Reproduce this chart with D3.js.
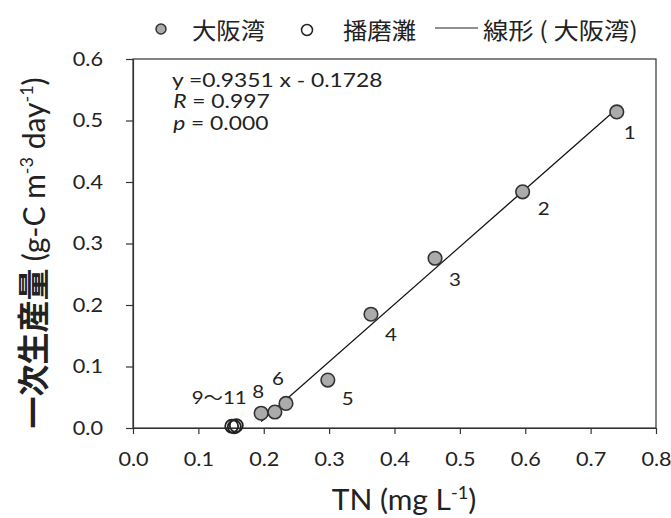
<!DOCTYPE html>
<html><head><meta charset="utf-8">
<script src="https://cdn.jsdelivr.net/npm/d3@7"></script>
<style>body{margin:0;background:#fff}svg{display:block}</style>
</head><body><svg id="c" width="671" height="518"></svg>
<script>
// ---- data ----
const osakaLabels = ["1","2","3","4","5","6","7","8"];
const osakaTN = [0.740,0.596,0.462,0.364,0.298,0.234,0.217,0.196];
const osakaPP = [0.514,0.384,0.276,0.185,0.078,0.040,0.026,0.024];
const harimaLabels = ["9","10","11"];
const harimaTN = [0.151,0.155,0.158];
const harimaPP = [0.003,0.002,0.004];
const xTicks = [0,0.1,0.2,0.3,0.4,0.5,0.6,0.7,0.8];
const yTicks = [0,0.1,0.2,0.3,0.4,0.5,0.6];
const fitSlope = 0.9351, fitIntercept = -0.1728;
const statLines = ["y =0.9351 x - 0.1728", "R = 0.997", "p = 0.000"];
const legendNames = ["大阪湾","播磨灘","線形 ( 大阪湾)"];
const pointTexts = ["1","2","3","4","5","6","8","9～11"];
const pointTextRef = [0,1,2,3,4,5,7,"h"]; // which point each text annotates

// ---- layout ----
const W = 671, H = 518;
const M = {left:133, right:15, top:59, bottom:90};
const labelOffsets = [[13,20],[21,16],[20,20],[20,19],[20,18],[-8,-26],[-3,-23],[15,-29]];
const LATIN = "Lato, 'Noto Sans', sans-serif";
const CJK = "'Noto Sans CJK JP', sans-serif";
const INK = "#222";
const SX = 1.14; // horizontal stretch of the reference lettering

const svg = d3.select("#c");
const x = d3.scaleLinear().domain([0,0.8]).range([M.left, W-M.right]);
const y = d3.scaleLinear().domain([0,0.6]).range([H-M.bottom, M.top]);

function stretched(parent, px, py, sx){
  return parent.append("g").attr("transform",`translate(${px},${py}) scale(${sx},1)`);
}

// frame
svg.append("rect").attr("x",x(0)).attr("y",y(0.6))
  .attr("width",x(0.8)-x(0)).attr("height",y(0)-y(0.6))
  .attr("fill","none").attr("stroke","#333").attr("stroke-width",1.2);

const fmt = d3.format(".1f");
const gx = svg.append("g").attr("transform",`translate(0,${y(0)})`)
  .call(d3.axisBottom(x).tickValues(xTicks).tickFormat(fmt).tickSize(6).tickPadding(19).tickSizeOuter(0));
const gy = svg.append("g").attr("transform",`translate(${x(0)},0)`)
  .call(d3.axisLeft(y).tickValues(yTicks).tickFormat(fmt).tickSize(7).tickPadding(23).tickSizeOuter(0));
[gx,gy].forEach(g=>{
  g.select(".domain").attr("stroke","#333").attr("stroke-width",1.2);
  g.selectAll(".tick line").attr("stroke","#333").attr("stroke-width",1.2);
  g.selectAll(".tick text").attr("font-family",LATIN).attr("font-size",19).attr("fill",INK);
});
gx.selectAll(".tick text").attr("transform",`scale(${SX},1)`);
gy.selectAll(".tick text").each(function(){
  const t = d3.select(this), xx = +t.attr("x");
  t.attr("x",0).attr("transform",`translate(${xx},0) scale(${SX},1)`);
});

// regression line over Osaka range
const xmin = d3.min(osakaTN), xmax = d3.max(osakaTN);
svg.append("line")
  .attr("x1",x(xmin)).attr("y1",y(fitSlope*xmin+fitIntercept))
  .attr("x2",x(xmax)).attr("y2",y(fitSlope*xmax+fitIntercept))
  .attr("stroke","#111").attr("stroke-width",1.2);

// points
const osaka = osakaTN.map((t,i)=>({t,p:osakaPP[i],n:osakaLabels[i]}));
const harima = harimaTN.map((t,i)=>({t,p:harimaPP[i],n:harimaLabels[i]}));
svg.append("g").selectAll("circle").data(osaka).join("circle")
  .attr("cx",d=>x(d.t)).attr("cy",d=>y(d.p)).attr("r",6.8)
  .attr("fill","#ababab").attr("stroke","#333").attr("stroke-width",1.6);
svg.append("g").selectAll("circle").data(harima).join("circle")
  .attr("cx",d=>x(d.t)).attr("cy",d=>y(d.p)).attr("r",6.5)
  .attr("fill","none").attr("stroke","#222").attr("stroke-width",1.8);

// point labels
pointTexts.forEach((s,i)=>{
  const r = pointTextRef[i];
  const t = r==="h" ? d3.min(harimaTN) : osakaTN[r];
  const p = r==="h" ? d3.max(harimaPP) : osakaPP[r];
  const g = stretched(svg, x(t)+labelOffsets[i][0], y(p)+labelOffsets[i][1], SX);
  const tx = g.append("text").attr("text-anchor", r==="h"?"end":"middle")
    .attr("dominant-baseline","central")
    .attr("font-family",LATIN).attr("font-size",18).attr("fill",INK);
  s.split(/(～)/).forEach(part=>{
    if(!part) return;
    const sp = tx.append("tspan").text(part);
    if(part==="～") sp.attr("font-family",CJK).attr("font-size",17);
  });
});

// stats annotation
const st = stretched(svg,172,0,1.2).attr("font-family",LATIN).attr("font-size",19).attr("fill",INK);
st.append("text").attr("x",0).attr("y",87).text(statLines[0]);
[[statLines[1],108],[statLines[2],130]].forEach(([s,yy])=>{
  const t = st.append("text").attr("x",1).attr("y",yy);
  t.append("tspan").attr("font-style","italic").text(s[0]);
  t.append("tspan").text(s.slice(1));
});

// legend
const lg = svg.append("g").attr("font-family",CJK).attr("font-size",23).attr("fill",INK);
lg.append("circle").attr("cx",161).attr("cy",29).attr("r",5).attr("fill","#ababab").attr("stroke","#333").attr("stroke-width",1.5);
stretched(lg,192,29,1.06).append("text").attr("dominant-baseline","central").text(legendNames[0]);
lg.append("circle").attr("cx",307).attr("cy",30).attr("r",5.5).attr("fill","none").attr("stroke","#222").attr("stroke-width",1.5);
stretched(lg,343,29,1.06).append("text").attr("dominant-baseline","central").text(legendNames[1]);
lg.append("line").attr("x1",435).attr("x2",478).attr("y1",28).attr("y2",28).attr("stroke","#222").attr("stroke-width",1.2);
stretched(lg,483,29,1.1).append("text").attr("dominant-baseline","central").text(legendNames[2]);

// x title
const xt = stretched(svg,404,510,1.07).append("text").attr("text-anchor","middle")
  .attr("font-family",LATIN).attr("font-size",28).attr("fill",INK);
xt.append("tspan").text("TN (mg L");
xt.append("tspan").attr("font-size",17).attr("dy",-11).text("-1");
xt.append("tspan").attr("dy",11).text(")");

// y title
const yt = svg.append("text").attr("transform","translate(45,253) rotate(-90)")
  .attr("text-anchor","middle").attr("font-family",LATIN).attr("font-size",30).attr("fill",INK);
yt.append("tspan").attr("font-family",CJK).attr("font-weight",700).attr("font-size",32).text("一次生産量 ");
yt.append("tspan").text("(g-C m");
yt.append("tspan").attr("font-size",18).attr("dy",-12).text("-3");
yt.append("tspan").attr("dy",12).text(" day");
yt.append("tspan").attr("font-size",18).attr("dy",-12).text("-1");
yt.append("tspan").attr("dy",12).text(")");
</script></body></html>
